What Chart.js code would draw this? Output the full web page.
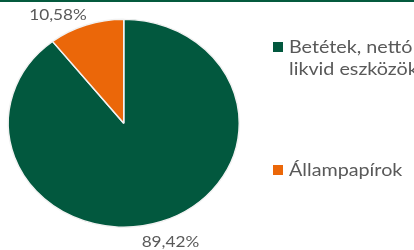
<!DOCTYPE html>
<html>
<head>
    <meta charset="utf-8">
    <title>Betétek és állampapírok megoszlása</title>
    <script src="https://cdn.jsdelivr.net/npm/chart.js"></script>
    <style>
        body {
            margin: 0;
            padding: 0;
            background-color: #ffffff;
        }
        .wrap {
            position: relative;
            width: 414px;
            height: 250px;
            overflow: hidden;
        }
        .topline {
            position: absolute;
            left: 0;
            top: 0;
            width: 414px;
            height: 2px;
            background-color: #045a3e;
        }
    </style>
</head>
<body>
    <div class="wrap">
        <canvas id="chart"></canvas>
        <div class="topline"></div>
    </div>

<script>
        // Data
        const categories = ['Betétek, nettó likvid eszközök', 'Állampapírok'];
        const legendLines = [['Betétek, nettó', 'likvid eszközök'], ['Állampapírok']];
        const shares = [89.42, 10.58];
        const valueLabels = ['89,42%', '10,58%'];
        const colors = ['#02583e', '#eb6709'];

        const textColor = '#595959';
        const fontFamily = 'Lato, "Open Sans", sans-serif';
        // the original picture is stretched sideways: pie is an ellipse, text is wide
        const squash = 0.9;
        const stretch = 1.11;

        function wideText(ctx, text, x, y) {
            ctx.save();
            ctx.translate(x, y);
            ctx.scale(stretch, 1);
            ctx.fillText(text, 0, 0);
            ctx.restore();
        }

        const ellipsePlugin = {
            id: 'ellipse',
            beforeDatasetsDraw(chart) {
                const arc = chart.getDatasetMeta(0).data[0];
                const ctx = chart.ctx;
                ctx.save();
                ctx.translate(arc.x, arc.y);
                ctx.scale(1, squash);
                ctx.translate(-arc.x, -arc.y);
            },
            afterDatasetsDraw(chart) {
                chart.ctx.restore();
            }
        };

        // percentage labels outside the slices
        const labelOffsets = [[9, 20], [-28, -10]];
        const valueLabelPlugin = {
            id: 'valueLabels',
            afterDraw(chart) {
                const ctx = chart.ctx;
                const meta = chart.getDatasetMeta(0);
                ctx.save();
                ctx.font = '15.5px ' + fontFamily;
                ctx.fillStyle = textColor;
                ctx.textAlign = 'center';
                ctx.textBaseline = 'middle';
                meta.data.forEach((arc, i) => {
                    const mid = (arc.startAngle + arc.endAngle) / 2;
                    const ex = arc.x + Math.cos(mid) * arc.outerRadius;
                    const ey = arc.y + Math.sin(mid) * arc.outerRadius * squash;
                    wideText(ctx, valueLabels[i], ex + labelOffsets[i][0], ey + labelOffsets[i][1]);
                });
                ctx.restore();
            }
        };

        // legend on the right with wrapped text
        const legendPlugin = {
            id: 'sideLegend',
            afterDraw(chart) {
                const ctx = chart.ctx;
                const baselines = [53, 176];
                ctx.save();
                ctx.font = '17.8px ' + fontFamily;
                ctx.textBaseline = 'alphabetic';
                ctx.textAlign = 'left';
                legendLines.forEach((lines, i) => {
                    ctx.fillStyle = colors[i];
                    ctx.fillRect(273, baselines[i] - 11, 10, 10);
                    ctx.fillStyle = textColor;
                    lines.forEach((line, j) => {
                        wideText(ctx, line, 289, baselines[i] + j * 22);
                    });
                });
                ctx.restore();
            }
        };

        window.onload = function() {
            const ctx = document.getElementById('chart').getContext('2d');
            new Chart(ctx, {
                type: 'pie',
                data: {
                    labels: categories,
                    datasets: [{
                        data: shares,
                        backgroundColor: colors,
                        borderColor: '#f2f2f2',
                        borderWidth: 1.5
                    }]
                },
                options: {
                    responsive: true,
                    maintainAspectRatio: false,
                    animation: false,
                    layout: {
                        padding: { left: 7.5, right: 174, top: 7, bottom: 10.5 }
                    },
                    plugins: {
                        legend: { display: false },
                        tooltip: { enabled: false }
                    }
                },
                plugins: [ellipsePlugin, valueLabelPlugin, legendPlugin]
            });
        };
    </script>
</body>
</html>
